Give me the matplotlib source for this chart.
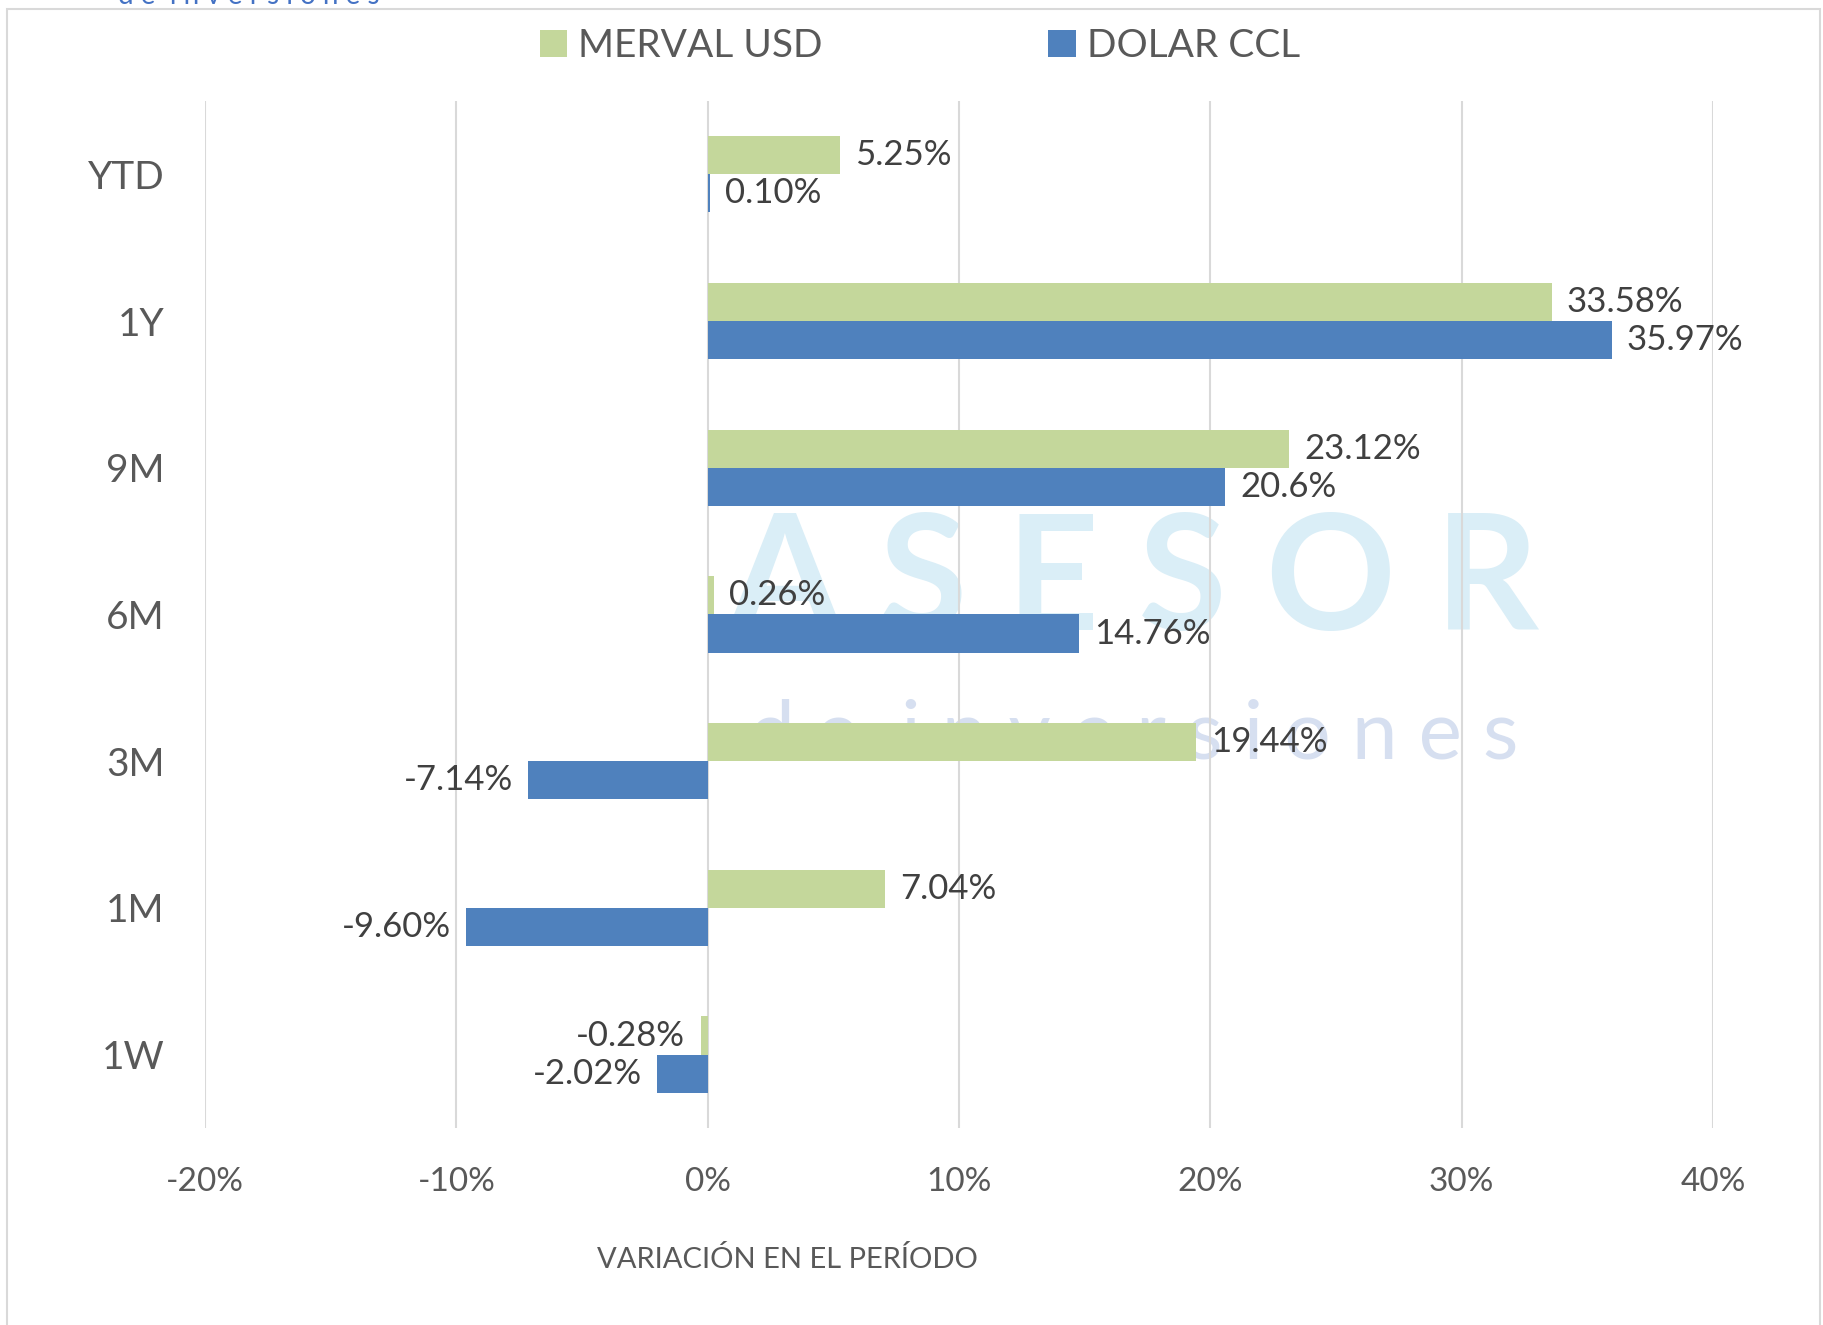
import matplotlib
matplotlib.use('Agg')
import matplotlib.pyplot as plt
from matplotlib.patches import Rectangle

plt.rcParams['font.family'] = ['Lato', 'DejaVu Sans']

categories = ['YTD', '1Y', '9M', '6M', '3M', '1M', '1W']
merval_usd = [5.25, 33.58, 23.12, 0.26, 19.44, 7.04, -0.28]
dolar_ccl = [0.10, 35.97, 20.6, 14.76, -7.14, -9.60, -2.02]
merval_labels = ['5.25%', '33.58%', '23.12%', '0.26%', '19.44%', '7.04%', '-0.28%']
dolar_labels = ['0.10%', '35.97%', '20.6%', '14.76%', '-7.14%', '-9.60%', '-2.02%']
xticks = [-20, -10, 0, 10, 20, 30, 40]
xtick_labels = ['-20%', '-10%', '0%', '10%', '20%', '30%', '40%']

green = '#c4d79b'
blue = '#4f81bd'
text_col = '#595959'

fig = plt.figure(figsize=(18.24, 13.25), dpi=100)
ax = fig.add_axes([0.1124, 0.1487, 0.8267, 0.7751])

# chart border
fig.patches.append(Rectangle((7 / 1824, -0.01), (1820 - 7) / 1824, 1 - 9 / 1325 + 0.01,
                             transform=fig.transFigure, fill=False,
                             edgecolor='#d9d9d9', linewidth=1.5))

h = 0.26
y = list(range(len(categories)))
ax.barh([v - h / 2 for v in y], merval_usd, height=h, color=green, zorder=3, label='MERVAL USD')
ax.barh([v + h / 2 for v in y], dolar_ccl, height=h, color=blue, zorder=3, label='DOLAR CCL')

for i in y:
    for val, lab, yy in ((merval_usd[i], merval_labels[i], i - h / 2),
                         (dolar_ccl[i], dolar_labels[i], i + h / 2)):
        off = 11 if val >= 0 else -11
        ax.annotate(lab, (val, yy), xytext=(off, 0), textcoords='offset points',
                    ha='left' if val >= 0 else 'right', va='center',
                    fontsize=25, color='#404040', zorder=4)

ax.set_xlim(-20, 40)
ax.set_ylim(6.5, -0.5)
ax.set_xticks(xticks)
ax.set_xticklabels(xtick_labels, fontsize=24, color=text_col)
ax.set_yticks(y)
ax.set_yticklabels(categories, fontsize=28, color=text_col)
ax.tick_params(axis='x', length=0, pad=28)
ax.tick_params(axis='y', length=0, pad=29)
ax.grid(axis='x', color='#d9d9d9', linewidth=1.5, zorder=0)
for s in ax.spines.values():
    s.set_visible(False)

# watermark
ax.text(0.616, 0.53, 'A S E S O R', transform=ax.transAxes, fontsize=116, fontweight='bold',
        color='#daeef7', ha='center', va='center', zorder=1)
ax.text(0.616, 0.382, 'd e  i n v e r s i o n e s', transform=ax.transAxes, fontsize=59,
        color='#d6dff0', ha='center', va='center', zorder=1)

# partial logo text at top
fig.text(118 / 1824, 1 - 4 / 1325, 'd e  i n v e r s i o n e s', fontsize=20,
         color='#4472c4', ha='left', va='baseline')

fig.text(787 / 1824, 1 - 1260 / 1325, 'VARIACIÓN EN EL PERÍODO', fontsize=21,
         color=text_col, ha='center', va='center')

leg = fig.legend(loc='center', bbox_to_anchor=(920 / 1824, 1 - 46 / 1325), ncol=2,
                 frameon=False, fontsize=28, handlelength=0.7, handleheight=0.7,
                 columnspacing=5.8, handletextpad=0.3, labelcolor=text_col)

fig.savefig('out.png', dpi=100)
